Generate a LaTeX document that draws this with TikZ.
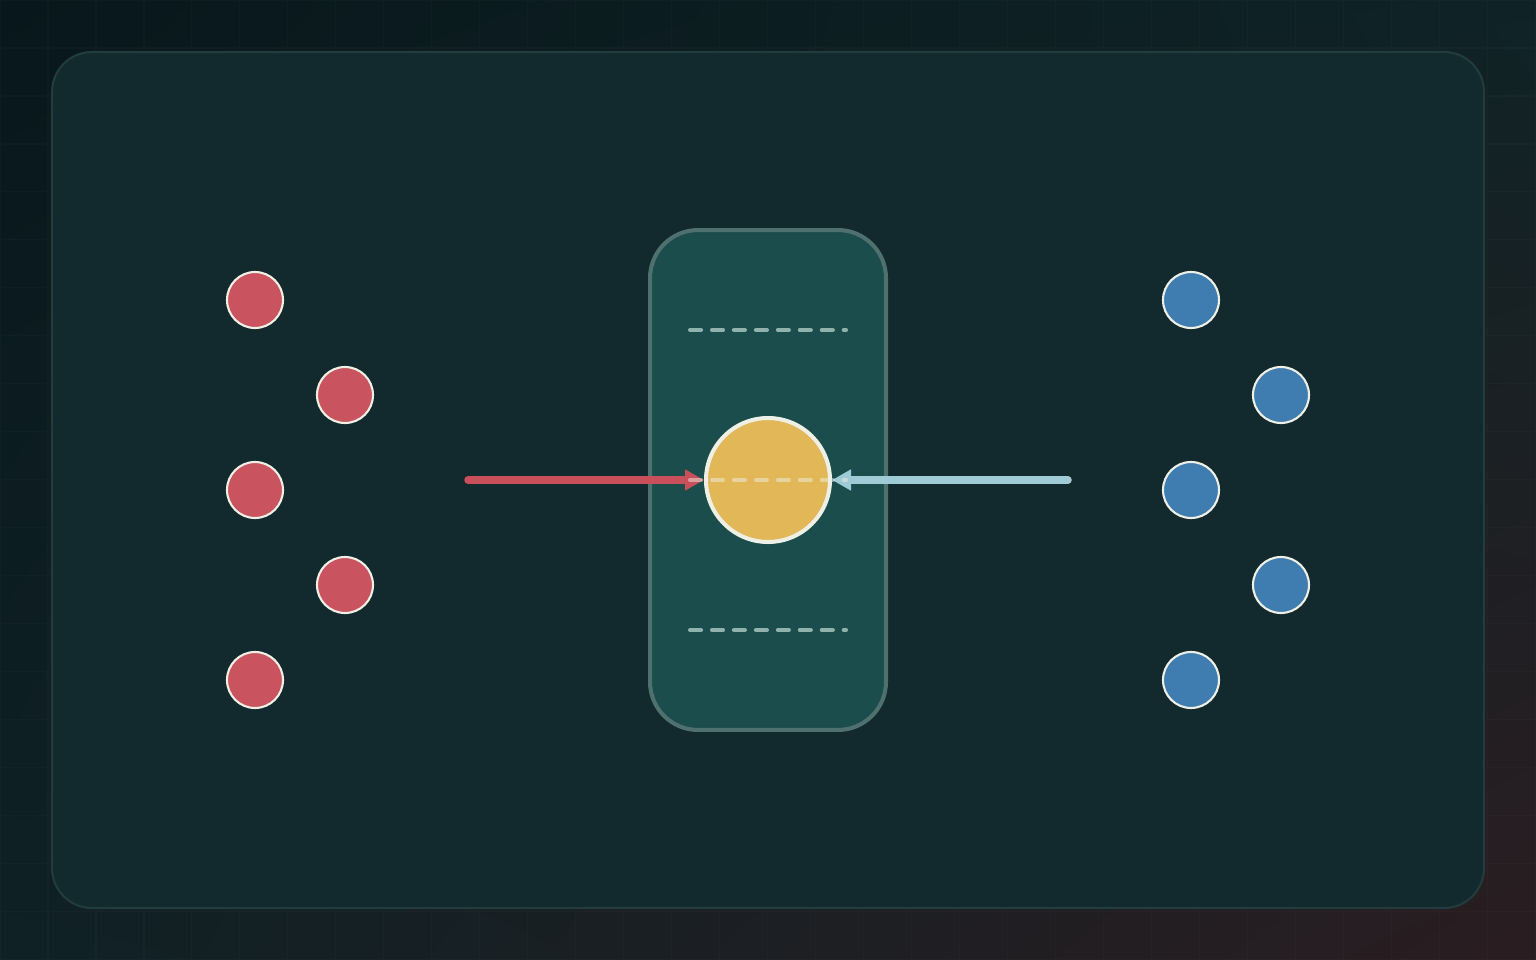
\documentclass[tikz,border=0pt]{standalone}
\usepackage{tikz}
\usetikzlibrary{arrows.meta,positioning,shapes,calc,shadings}

\definecolor{bgTL}{HTML}{08171B}
\definecolor{bgTR}{HTML}{0F2326}
\definecolor{bgBL}{HTML}{0F2125}
\definecolor{bgBR}{HTML}{2A1D21}
\definecolor{panelfill}{HTML}{122A2D}
\definecolor{panelline}{HTML}{223B3D}
\definecolor{gatefill}{HTML}{1A4D4B}
\definecolor{gateline}{HTML}{4E716F}
\definecolor{redpt}{HTML}{C9535E}
\definecolor{bluept}{HTML}{3F7DB1}
\definecolor{corefill}{HTML}{E1B757}
\definecolor{rim}{HTML}{EEF0E6}
\definecolor{redflow}{HTML}{C9505B}
\definecolor{blueflow}{HTML}{9ECBD6}
\definecolor{dashgray}{HTML}{8FB2AD}

\begin{document}
\begin{tikzpicture}[
    x=0.02cm, y=-0.02cm,
    pt/.style={circle, draw=rim, line width=1.2pt, minimum size=1.12cm, inner sep=0pt},
    redpt/.style={pt, fill=redpt},
    bluept/.style={pt, fill=bluept},
    flow/.style={-{Triangle[length=0.38cm, width=0.4cm]}, line width=4.3pt, line cap=round},
    split/.style={line width=2.3pt, line cap=round, dash pattern=on 6.3pt off 6.2pt}
]
% Background
\useasboundingbox (0,0) rectangle (1536,960);
\shade[upper left=bgTL, upper right=bgTR, lower left=bgBL, lower right=bgBR] (0,0) rectangle (1536,960);
\draw[white, opacity=0.02, line width=0.6pt, step=0.96cm] (0,0) grid (1536,960);
\draw[fill=panelfill, draw=panelline, line width=1.2pt, rounded corners=0.8cm] (52,52) rectangle (1484,908);

% Gate in the middle
\node[draw=gateline, fill=gatefill, line width=2.3pt, rounded corners=0.96cm,
      minimum width=4.72cm, minimum height=10cm] (gate) at (768,480) {};
\draw[split, dashgray] (690,330) -- (846,330);
\draw[split, dashgray] (690,630) -- (846,630);

% Left group
\node[redpt] (r1) at (255,300) {};
\node[redpt] (r2) at (345,395) {};
\node[redpt] (r3) at (255,490) {};
\node[redpt] (r4) at (345,585) {};
\node[redpt] (r5) at (255,680) {};

% Right group
\node[bluept] (b1) at (1191,300) {};
\node[bluept] (b2) at (1281,395) {};
\node[bluept] (b3) at (1191,490) {};
\node[bluept] (b4) at (1281,585) {};
\node[bluept] (b5) at (1191,680) {};

% Core and the two flows
\node[circle, fill=corefill, draw=rim, line width=2.3pt, minimum size=2.48cm, inner sep=0pt] (core) at (768,480) {};
\coordinate (redtail) at (468,480);
\coordinate (bluetail) at (1068,480);
\draw[flow, redflow] (redtail) -- (core);
\draw[flow, blueflow] (bluetail) -- (core);
\draw[split, rim, opacity=0.5] (690,480) -- (846,480);
\end{tikzpicture}
\end{document}
